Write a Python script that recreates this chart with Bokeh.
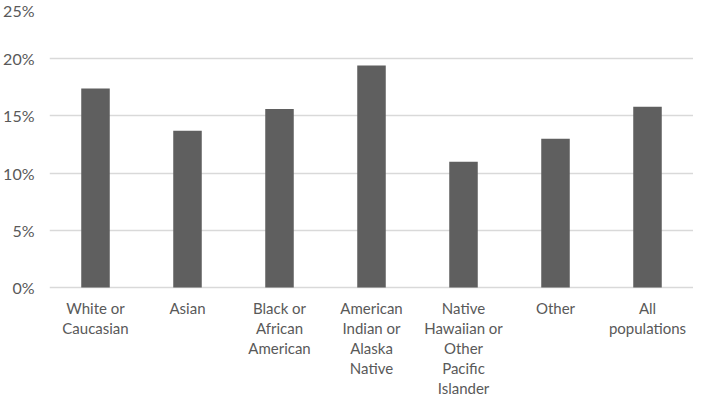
from bokeh.plotting import figure
from bokeh.models import FixedTicker, PrintfTickFormatter, FactorRange, Range1d
from bokeh.core.properties import value
from bokeh.embed import file_html
from bokeh.resources import INLINE

categories = [
    "White or Caucasian",
    "Asian",
    "Black or African American",
    "American Indian or Alaska Native",
    "Native Hawaiian or Other Pacific Islander",
    "Other",
    "All populations",
]
tick_labels = [
    "White or\nCaucasian",
    "Asian",
    "Black or\nAfrican\nAmerican",
    "American\nIndian or\nAlaska\nNative",
    "Native\nHawaiian or\nOther\nPacific\nIslander",
    "Other",
    "All\npopulations",
]
values = [17.4, 13.7, 15.6, 19.4, 11.0, 13.0, 15.8]
y_ticks = [0, 5, 10, 15, 20, 25]

FONT = "Lato"
TEXT_COLOR = "#595959"
GRID_COLOR = "#d9d9d9"
LABEL_OFFSET = -0.99   # label band position below the 0% line (in axis units)

p = figure(
    x_range=FactorRange(factors=categories, range_padding=0),
    y_range=Range1d(-9.71, 25),
    width=693, height=398, x_axis_location=None,
    output_backend="svg", toolbar_location=None,
    min_border_left=40, min_border_right=0, min_border_top=1, min_border_bottom=0,
)
p.vbar(x=categories, top=values, width=0.31, color="#5f5f5f", line_color=None)

p.text(x=categories, y=[LABEL_OFFSET] * len(categories), text=tick_labels,
       text_font=value(FONT), text_font_size="15px", text_color=TEXT_COLOR,
       text_align="center", text_baseline="top", text_line_height=1.12)

p.outline_line_color = None
p.xgrid.grid_line_color = None
p.ygrid.grid_line_color = GRID_COLOR
p.ygrid.grid_line_width = 1.3

p.yaxis.ticker = FixedTicker(ticks=y_ticks)
p.yaxis.formatter = PrintfTickFormatter(format="%d%%")
p.yaxis.axis_line_color = None
p.yaxis.major_tick_line_color = None
p.yaxis.minor_tick_line_color = None
p.yaxis.major_label_standoff = 9
p.yaxis.major_label_text_font = FONT
p.yaxis.major_label_text_font_size = "16px"
p.yaxis.major_label_text_color = TEXT_COLOR

open("out.html", "w").write(file_html(p, INLINE))
